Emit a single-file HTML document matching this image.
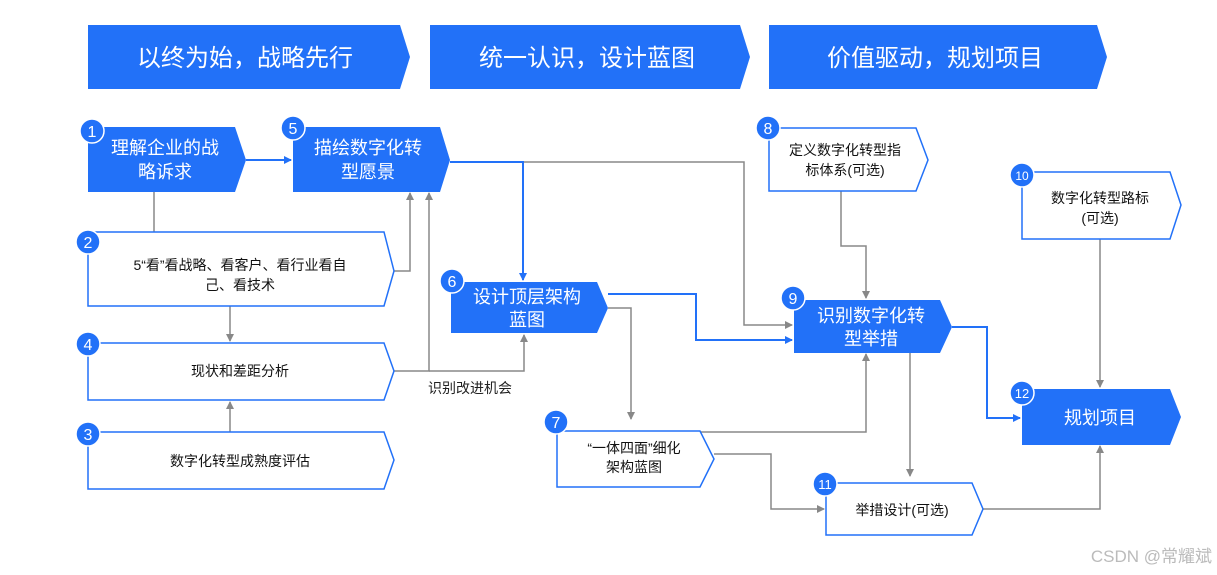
<!DOCTYPE html>
<html><head><meta charset="utf-8"><style>
body{margin:0;background:#fff}
svg{display:block}
text{font-family:"Liberation Sans","Noto Sans CJK SC",sans-serif}
</style></head><body>
<svg width="1217" height="575" viewBox="0 0 1217 575" xmlns="http://www.w3.org/2000/svg">
<defs>
<marker id="ag" markerWidth="8" markerHeight="8" refX="7" refY="4" orient="auto" markerUnits="userSpaceOnUse"><path d="M0,0 L8,4 L0,8 z" fill="#888"/></marker>
<marker id="ab" markerWidth="8" markerHeight="8" refX="7" refY="4" orient="auto" markerUnits="userSpaceOnUse"><path d="M0,0 L8,4 L0,8 z" fill="#2271f8"/></marker>
</defs>
<!-- banners -->
<g fill="#2271f8">
<polygon points="88,25 400,25 410,57 400,89 88,89"/>
<polygon points="430,25 740,25 750,57 740,89 430,89"/>
<polygon points="769,25 1097,25 1107,57 1097,89 769,89"/>
</g>
<g fill="#fff" font-size="24" text-anchor="middle">
<text x="245" y="66">以终为始，战略先行</text>
<text x="587" y="66">统一认识，设计蓝图</text>
<text x="935" y="66">价值驱动，规划项目</text>
</g>
<!-- connectors gray -->
<g fill="none" stroke="#888" stroke-width="1.5">
<path d="M154,192 V240" marker-end="url(#ag)"/>
<path d="M394,271 H410 V193" marker-end="url(#ag)"/>
<path d="M394,371 H429 V193" marker-end="url(#ag)"/>
<path d="M429,371 H524 V335" marker-end="url(#ag)"/>
<path d="M230,306 V341" marker-end="url(#ag)"/>
<path d="M230,432 V402" marker-end="url(#ag)"/>
<path d="M523,162 H744 V325 H792" marker-end="url(#ag)"/>
<path d="M608,308 H631 V419" marker-end="url(#ag)"/>
<path d="M841,191 V246 H866 V298" marker-end="url(#ag)"/>
<path d="M700,432 H866 V354" marker-end="url(#ag)"/>
<path d="M910,352 V476" marker-end="url(#ag)"/>
<path d="M714,454 H771 V509 H824" marker-end="url(#ag)"/>
<path d="M1100,239 V387" marker-end="url(#ag)"/>
<path d="M983,509 H1100 V446" marker-end="url(#ag)"/>
</g>
<g fill="none" stroke="#2271f8" stroke-width="2">
<path d="M246,160 H291" marker-end="url(#ab)"/>
<path d="M450,162 H523 V280" marker-end="url(#ab)"/>
<path d="M608,294 H696 V340 H792" marker-end="url(#ab)"/>
<path d="M952,327 H987 V418 H1020" marker-end="url(#ab)"/>
</g>
<text x="470" y="393" font-size="14" text-anchor="middle" fill="#222">识别改进机会</text>
<!-- filled boxes -->
<g fill="#2271f8">
<polygon points="88,127 235,127 246,160 235,192 88,192"/>
<polygon points="293,127 440,127 450,160 440,192 293,192"/>
<polygon points="451,282 597,282 608,308 597,333 451,333"/>
<polygon points="794,300 940,300 952,327 940,353 794,353"/>
<polygon points="1022,389 1170,389 1181,417 1170,445 1022,445"/>
</g>
<!-- outline boxes -->
<g fill="#fff" stroke="#2271f8" stroke-width="1.5">
<polygon points="88,232 384,232 394,271 384,306 88,306"/>
<polygon points="88,343 384,343 394,371 384,400 88,400"/>
<polygon points="88,432 384,432 394,460 384,489 88,489"/>
<polygon points="557,431 700,431 714,459 700,487 557,487"/>
<polygon points="769,128 916,128 928,160 916,191 769,191"/>
<polygon points="1022,172 1170,172 1181,205 1170,239 1022,239"/>
<polygon points="826,483 972,483 983,509 972,535 826,535"/>
</g>
<g fill="#fff" font-size="18" text-anchor="middle">
<text x="165" y="154">理解企业的战</text><text x="165" y="178">略诉求</text>
<text x="368" y="154">描绘数字化转</text><text x="368" y="178">型愿景</text>
<text x="527" y="303">设计顶层架构</text><text x="527" y="326">蓝图</text>
<text x="871" y="322">识别数字化转</text><text x="871" y="345">型举措</text>
<text x="1100" y="424">规划项目</text>
</g>
<g fill="#111" font-size="14" text-anchor="middle">
<text x="240" y="270">5“看”看战略、看客户、看行业看自</text><text x="240" y="290">己、看技术</text>
<text x="240" y="376">现状和差距分析</text>
<text x="240" y="466">数字化转型成熟度评估</text>
<text x="634" y="453">“一体四面”细化</text><text x="634" y="472">架构蓝图</text>
<text x="845" y="155">定义数字化转型指</text><text x="845" y="175">标体系(可选)</text>
<text x="1100" y="203">数字化转型路标</text><text x="1100" y="223">(可选)</text>
<text x="902" y="515">举措设计(可选)</text>
</g>
<!-- number circles -->
<g fill="#2271f8" stroke="#fff" stroke-width="1.5">
<circle cx="92" cy="131" r="12"/><circle cx="293" cy="128" r="12"/>
<circle cx="88" cy="242" r="12"/><circle cx="88" cy="344" r="12"/>
<circle cx="88" cy="434" r="12"/><circle cx="452" cy="281" r="12"/>
<circle cx="556" cy="422" r="12"/><circle cx="768" cy="128" r="12"/>
<circle cx="793" cy="298" r="12"/><circle cx="1022" cy="175" r="12"/>
<circle cx="1022" cy="393" r="12"/><circle cx="825" cy="484" r="12"/>
</g>
<g fill="#fff" font-size="16" text-anchor="middle">
<text x="92" y="137">1</text><text x="293" y="134">5</text>
<text x="88" y="248">2</text><text x="88" y="350">4</text>
<text x="88" y="440">3</text><text x="452" y="287">6</text>
<text x="556" y="428">7</text><text x="768" y="134">8</text>
<text x="793" y="304">9</text>
<text x="1022" y="180" font-size="12">10</text>
<text x="1022" y="398" font-size="13">12</text>
<text x="825" y="489" font-size="13">11</text>
</g>
<text x="1212" y="562" font-size="17" text-anchor="end" fill="#bbb">CSDN @常耀斌</text>
</svg>
</body></html>
